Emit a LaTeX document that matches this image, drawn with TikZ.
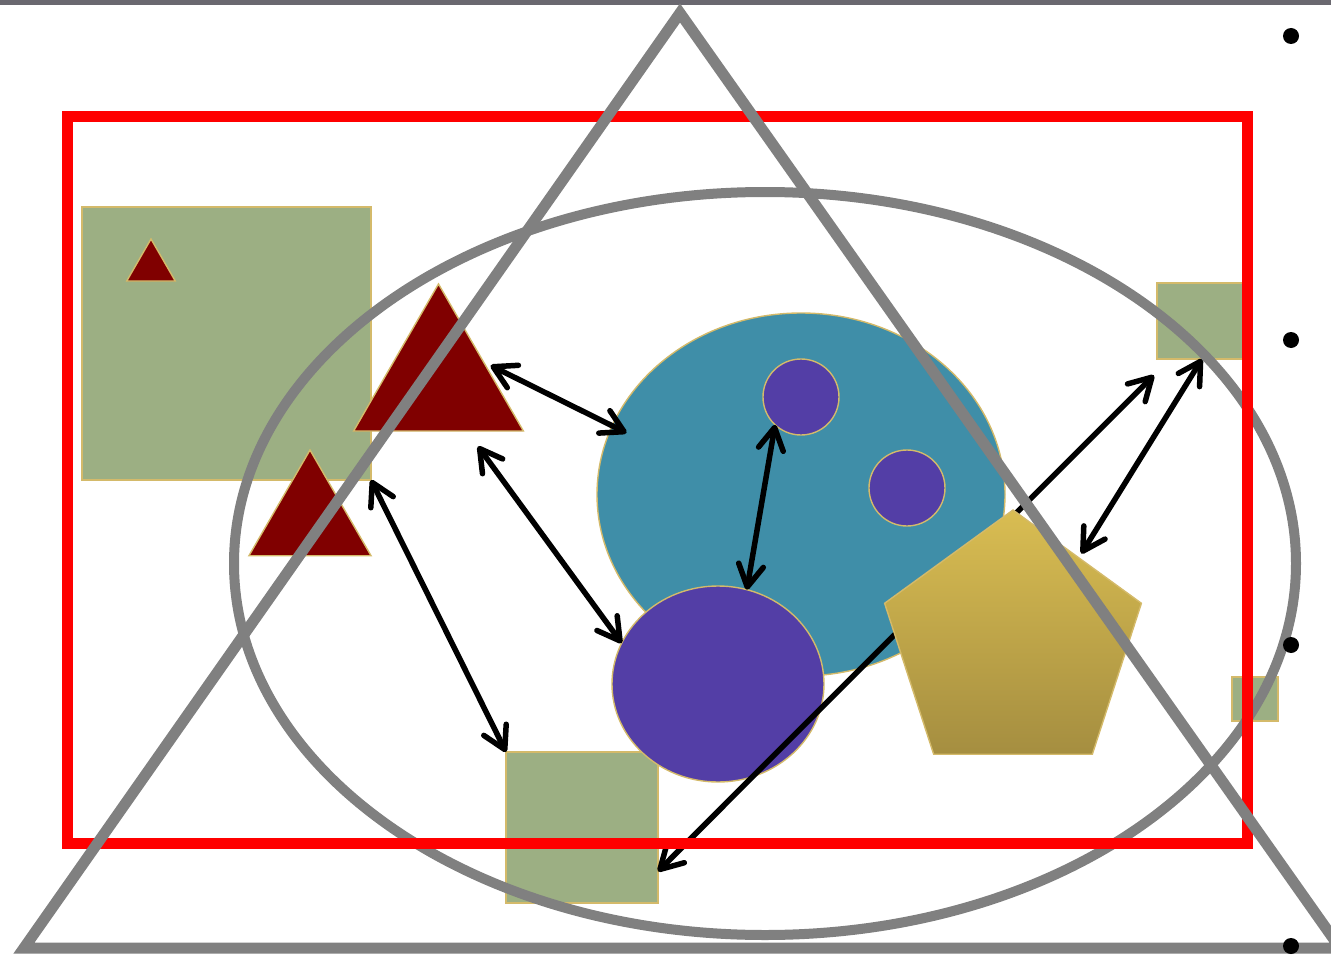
\documentclass[tikz,border=0pt]{standalone}
\usetikzlibrary{arrows.meta,shapes.geometric}
\definecolor{sqFill}{HTML}{9CAF83}
\definecolor{tanStroke}{HTML}{D4BA6A}
\definecolor{triFill}{HTML}{800000}
\definecolor{tealFill}{HTML}{3F8EA8}
\definecolor{violetFill}{HTML}{533EA6}
\definecolor{goldTop}{HTML}{D9BD52}
\definecolor{goldBottom}{HTML}{A58E40}
\definecolor{guideGray}{HTML}{808080}
\definecolor{barGray}{HTML}{6A6870}
\definecolor{frameRed}{HTML}{FF0000}
\begin{document}
\begin{tikzpicture}[x=1pt,y=-1pt,
  >={Straight Barb[length=22pt,width=25pt,round]},
  sq/.style={rectangle,draw=tanStroke,line width=1.4pt,fill=sqFill,inner sep=0pt,outer sep=0pt},
  tri/.style={regular polygon,regular polygon sides=3,draw=tanStroke,line width=1.4pt,fill=triFill,inner sep=0pt,outer sep=0pt},
  blob/.style={ellipse,draw=tanStroke,line width=1.4pt,inner sep=0pt,outer sep=0pt},
  link/.style={<->,line width=5.5pt,line cap=round},
  guide/.style={draw=guideGray,line width=11pt},
  bulletdot/.style={circle,fill=black,inner sep=0pt,minimum size=16pt}
]
\useasboundingbox (0,0) rectangle (1331,955);
% Shapes first, the arrows over them, the grey outlines and red frame on top.
\draw[draw=barGray,line width=5pt] (0,3) -- (1331,3);
\node[sq,minimum width=289pt,minimum height=273pt] (bigsq) at (226.5,343.5) {};
\node[sq,minimum width=90pt,minimum height=76pt] (trsq) at (1202,321) {};
\node[sq,minimum width=46pt,minimum height=44pt] (rsq) at (1255,699) {};
\node[sq,minimum width=152pt,minimum height=151pt] (botsq) at (582,827.5) {};
\node[tri,minimum size=56pt] (smalltri) at (151,267) {};
\node[tri,minimum size=196pt] (bigtri) at (438.5,382) {};
\node[tri,minimum size=141pt] (midtri) at (310,520.5) {};
\node[blob,fill=tealFill,minimum width=408pt,minimum height=363pt] (teal) at (801,494.5) {};
\node[blob,fill=violetFill,minimum width=76pt,minimum height=76pt] (disca) at (801,397) {};
\node[blob,fill=violetFill,minimum width=76pt,minimum height=76pt] (discb) at (907,488) {};
\node[blob,fill=violetFill,minimum width=212pt,minimum height=196pt] (bigdisc) at (718,684) {};
\draw[link,shorten <=8pt,shorten >=-16pt] (bigtri.24) -- (teal.160);
\draw[link,shorten <=19pt] (bigtri.-60) -- (bigdisc.157);
\draw[link] (bigsq.south east) -- (botsq.north west);
\draw[link] (disca.-133) -- (bigdisc.73);
\draw[link,shorten >=23pt] (botsq.-30) -- (trsq.-130);
\node[regular polygon,regular polygon sides=5,minimum size=270pt,inner sep=0pt,outer sep=0pt,draw=tanStroke,line width=1.4pt,top color=goldTop,bottom color=goldBottom] (pent) at (1013,645) {};
\draw[link,shorten >=5pt] (trsq.south) -- (pent.53);
\draw[guide,line width=10pt] (765,563.5) ellipse [x radius=531, y radius=371.5];
\draw[draw=frameRed,line width=11pt] (67,117) rectangle (1247,843);
\draw[guide,line join=miter] (680,13) -- (24,948) -- (1340,948) -- cycle;
\foreach \y [count=\i] in {36,340,645,946}
  \node[bulletdot] (bullet\i) at (1291,\y) {};
\end{tikzpicture}
\end{document}
